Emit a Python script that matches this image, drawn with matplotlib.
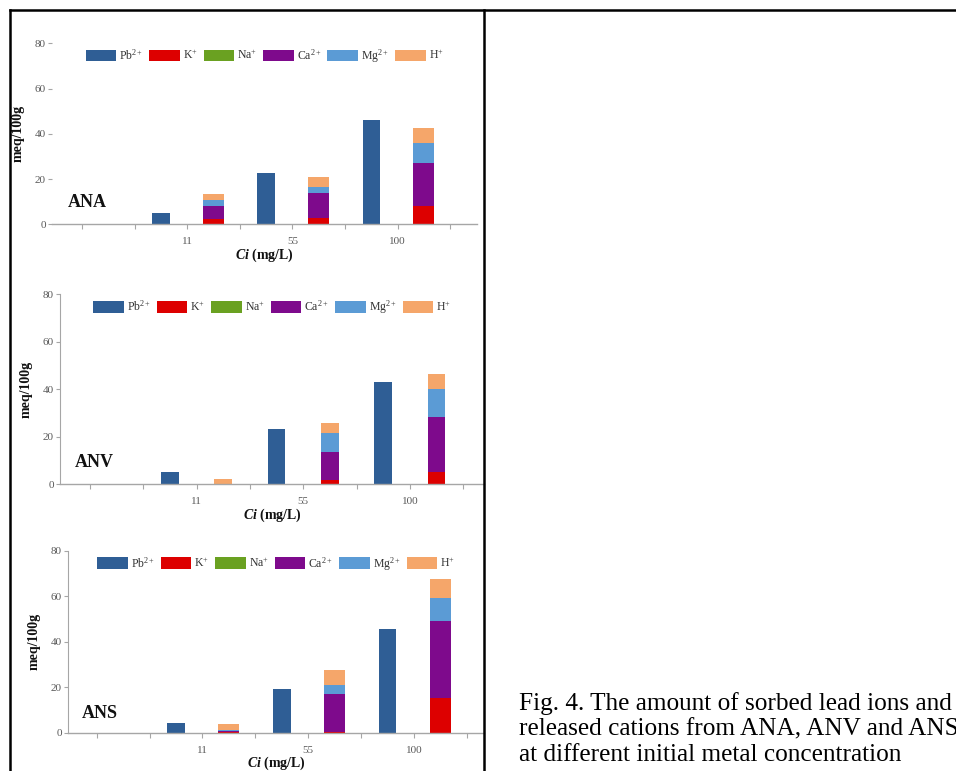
import matplotlib
matplotlib.use("Agg")
import matplotlib.pyplot as plt
from matplotlib.lines import Line2D

plt.rcParams["font.family"] = ["Liberation Serif", "DejaVu Serif"]
plt.rcParams["mathtext.fontset"] = "custom"
plt.rcParams["mathtext.rm"] = "Liberation Serif"
plt.rcParams["mathtext.it"] = "Liberation Serif:italic:bold"
plt.rcParams["mathtext.bf"] = "Liberation Serif:bold"

# Initial Pb concentration (mg/L) of each group
conc_labels = ["11", "55", "100"]

# Sorbed Pb and released cations, meq/100g
ana_pb = [5.1, 22.5, 46.1]
ana_k = [2.2, 2.6, 8.1]
ana_na = [0.0, 0.0, 0.0]
ana_ca = [6.0, 11.4, 18.9]
ana_mg = [2.5, 2.6, 8.8]
ana_h = [2.6, 4.4, 6.6]

anv_pb = [4.9, 23.2, 43.0]
anv_k = [0.0, 1.8, 5.2]
anv_na = [0.0, 0.0, 0.0]
anv_ca = [0.0, 11.8, 22.9]
anv_mg = [0.0, 8.0, 12.0]
anv_h = [2.0, 4.0, 6.3]

ans_pb = [4.1, 19.2, 45.5]
ans_k = [0.2, 0.3, 15.1]
ans_na = [0.0, 0.0, 0.0]
ans_ca = [0.6, 16.6, 34.2]
ans_mg = [0.2, 4.2, 9.9]
ans_h = [2.7, 6.5, 8.3]

samples = {
    "ANA": (ana_pb, [ana_k, ana_na, ana_ca, ana_mg, ana_h]),
    "ANV": (anv_pb, [anv_k, anv_na, anv_ca, anv_mg, anv_h]),
    "ANS": (ans_pb, [ans_k, ans_na, ans_ca, ans_mg, ans_h]),
}

ion_labels = ["K$^{+}$", "Na$^{+}$", "Ca$^{2+}$", "Mg$^{2+}$", "H$^{+}$"]
pb_label = "Pb$^{2+}$"
pb_colour = "#2F5E95"
ion_colours = ["#DD0000", "#6AA121", "#7E0A8C", "#5B9BD5", "#F5A66A"]

W, H = 956, 771

# pixel boxes: left, right, y of 0, y of 80 ; xlim ; sample label spot ; stacked width
panels = [
    ("ANA", (52, 477, 224.3, 43.3), (-0.57, 7.51), (-0.27, 7.8), 0.40),
    ("ANV", (60, 484, 484.0, 294.3), (-0.56, 7.39), (-0.28, 7.3), 0.33),
    ("ANS", (68, 484, 732.7, 551.0), (-0.54, 7.32), (-0.28, 6.3), 0.40),
]

axis_grey = "#A6A6A6"
text_grey = "#595959"

fig = plt.figure(figsize=(W / 100, H / 100), dpi=100)

for name, (l, r, y0, y80), xlim, lab_xy, stack_w in panels:
    ax = fig.add_axes([l / W, 1 - y0 / H, (r - l) / W, (y0 - y80) / H])
    pb, ions = samples[name]
    x_pb = [1.5, 3.5, 5.5]
    x_ion = [2.5, 4.5, 6.5]

    ax.bar(x_pb, pb, width=0.33, color=pb_colour, label=pb_label, zorder=2)
    bottom = [0.0] * len(x_ion)
    for vals, colour, lab in zip(ions, ion_colours, ion_labels):
        ax.bar(x_ion, vals, width=stack_w, bottom=bottom, color=colour,
               label=lab, zorder=2)
        bottom = [b + v for b, v in zip(bottom, vals)]

    ax.set_xlim(*xlim)
    ax.set_ylim(0, 80)
    ax.set_yticks([0, 20, 40, 60, 80])
    ax.set_xticks(range(8))
    ax.set_xticklabels(["", "", conc_labels[0], "", conc_labels[1], "",
                        conc_labels[2], ""])

    for side in ("top", "right"):
        ax.spines[side].set_visible(False)
    ax.spines["bottom"].set_color(axis_grey)
    ax.spines["left"].set_color(axis_grey)
    ax.spines["bottom"].set_linewidth(1.0)
    ax.spines["left"].set_linewidth(0.8)
    if name == "ANA":
        ax.spines["left"].set_visible(False)

    ax.tick_params(axis="x", direction="out", length=3.5, width=0.8,
                   color=axis_grey, labelcolor=text_grey, labelsize=8, pad=6)
    ax.tick_params(axis="y", direction="out", length=3, width=0.8,
                   color=axis_grey, labelcolor=text_grey, labelsize=8, pad=1.5)

    ax.text(lab_xy[0], lab_xy[1], name, fontsize=13, fontweight="bold",
            ha="left", va="baseline", color="#111111")

    width_px = r - l
    height_px = y0 - y80
    ax.text(-34 / width_px, 0.5, "meq/100g", transform=ax.transAxes,
            rotation=90, ha="center", va="center", fontsize=10,
            fontweight="bold", color="#111111")
    ax.text(0.5, -31 / height_px, "$Ci$ (mg/L)", transform=ax.transAxes,
            ha="center", va="center", fontsize=10, fontweight="bold",
            color="#111111")

    ax.legend(loc="center", bbox_to_anchor=(0.5, 0.93), ncol=6,
              frameon=False, fontsize=8.5, handlelength=2.6,
              handleheight=1.1, handletextpad=0.25, columnspacing=0.5,
              labelcolor="#333333")

# table rules around the figure cell and the caption cell
rule = dict(color="black", linewidth=1.8, transform=fig.transFigure)
fig.add_artist(Line2D([10 / W, 1], [1 - 10 / H, 1 - 10 / H], **rule))
fig.add_artist(Line2D([10 / W, 10 / W], [1 - 10 / H, 0], **rule))
fig.add_artist(Line2D([484 / W, 484 / W], [1 - 10 / H, 0], **rule))

caption = [
    "Fig. 4. The amount of sorbed lead ions and",
    "released cations from ANA, ANV and ANS",
    "at different initial metal concentration",
]
for line, base in zip(caption, [710.0, 735.5, 761.0]):
    fig.text(519 / W, 1 - base / H, line, fontsize=18.2, ha="left",
             va="baseline", color="black")

fig.savefig("out.png", dpi=100)
